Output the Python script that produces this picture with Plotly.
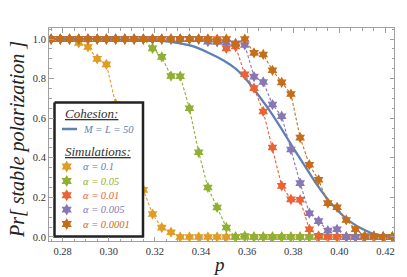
import plotly.graph_objects as go

# ---------------- data ----------------
p = [0.275, 0.279, 0.283, 0.287, 0.291, 0.295, 0.299, 0.303, 0.307, 0.311,
     0.315, 0.319, 0.323, 0.327, 0.331, 0.335, 0.339, 0.343, 0.347, 0.351,
     0.355, 0.359, 0.363, 0.367, 0.371, 0.375, 0.379, 0.383, 0.387, 0.391,
     0.395, 0.399, 0.403, 0.407, 0.411, 0.415, 0.419, 0.423]

alpha_01 = [1.0, 1.0, 1.0, 0.98, 0.96, 0.90, 0.872, 0.672, 0.471, 0.413,
            0.238, 0.116, 0.047, 0.024, 0, 0, 0, 0, 0, 0,
            0, 0, 0, 0, 0, 0, 0, 0, 0, 0,
            0, 0, 0, 0, 0, 0, 0, 0]
alpha_005 = [1.0, 1.0, 1.0, 1.0, 1.0, 1.0, 1.0, 1.0, 1.0, 1.0,
             1.0, 0.953, 0.91, 0.813, 0.812, 0.65, 0.428, 0.25, 0.149, 0.048,
             0, 0.005, 0, 0, 0, 0, 0, 0, 0, 0,
             0, 0, 0, 0, 0, 0, 0, 0]
alpha_001 = [1.0, 1.0, 1.0, 1.0, 1.0, 1.0, 1.0, 1.0, 1.0, 1.0,
             1.0, 1.0, 1.0, 1.0, 1.0, 1.0, 1.0, 1.0, 1.0, 0.953,
             0.962, 0.822, 0.752, 0.634, 0.452, 0.258, 0.19, 0.188, 0.039, 0.006,
             0, 0, 0, 0, 0, 0, 0, 0]
alpha_0005 = [1.0, 1.0, 1.0, 1.0, 1.0, 1.0, 1.0, 1.0, 1.0, 1.0,
              1.0, 1.0, 1.0, 1.0, 1.0, 1.0, 1.0, 0.987, 0.985, 0.982,
              0.978, 0.97, 0.81, 0.783, 0.669, 0.61, 0.442, 0.272, 0.12, 0.08,
              0.032, 0.039, 0, 0, 0, 0, 0, 0]
alpha_00001 = [1.0, 1.0, 1.0, 1.0, 1.0, 1.0, 1.0, 1.0, 1.0, 1.0,
               1.0, 1.0, 1.0, 1.0, 1.0, 1.0, 1.0, 1.0, 0.99, 1.0,
               0.975, 1.0, 0.93, 0.922, 0.842, 0.781, 0.722, 0.502, 0.365, 0.289,
               0.171, 0.15, 0.086, 0.039, 0.005, 0.005, 0, 0]

cohesion_p = [0.2741, 0.29, 0.30, 0.31, 0.32, 0.329, 0.336, 0.343, 0.350, 0.355,
              0.360, 0.365, 0.370, 0.375, 0.380, 0.385, 0.390, 0.395, 0.400, 0.405,
              0.410, 0.415, 0.420, 0.4237]
cohesion_v = [1.0, 1.0, 0.999, 0.997, 0.993, 0.982, 0.965, 0.932, 0.89, 0.85,
              0.79, 0.715, 0.635, 0.545, 0.45, 0.36, 0.27, 0.19, 0.125, 0.075,
              0.04, 0.015, 0.004, 0.0]

series_names = ["α = 0.1", "α = 0.05", "α = 0.01", "α = 0.005", "α = 0.0001"]
series_values = [alpha_01, alpha_005, alpha_001, alpha_0005, alpha_00001]
series_colors = ["#E19C24", "#8FB032", "#EB6235", "#8778B3", "#C56E1A"]
label_colors = ["#5E81B5", "#8FB032", "#EB6235", "#8778B3", "#C56E1A"]
BLUE = "#5E81B5"

x_ticks = [0.28, 0.30, 0.32, 0.34, 0.36, 0.38, 0.40, 0.42]
y_ticks = [0.0, 0.2, 0.4, 0.6, 0.8, 1.0]

FONT = "Liberation Serif"

# plot area in picture pixels: x 49..394, y 28..241
PX0, PX1, PY0, PY1 = 49.0, 394.0, 28.0, 241.0


def paper_x(px):
    return (px - PX0) / (PX1 - PX0)


def paper_y(py):
    return (PY1 - py) / (PY1 - PY0)


fig = go.Figure()

fig.add_trace(go.Scatter(
    x=cohesion_p, y=cohesion_v, mode="lines",
    line=dict(color=BLUE, width=2.3, shape="spline", smoothing=0.6),
    showlegend=False, hoverinfo="skip"))

for name, vals, col in zip(series_names, series_values, series_colors):
    fig.add_trace(go.Scatter(
        x=p, y=vals, mode="lines+markers", name=name,
        line=dict(color=col, width=1.1, dash="3px,2px"),
        marker=dict(symbol="hexagram", size=8.5, color=col, line=dict(width=0)),
        showlegend=False))

# ---------------- hand-made legend (overlay axes in pixel units) ----------------
bx0, bx1, by0, by1 = 54.5, 143, 102.5, 236.5
fig.add_trace(go.Scatter(
    x=[bx0, bx1, bx1, bx0, bx0], y=[by0, by0, by1, by1, by0],
    xaxis="x2", yaxis="y2", mode="lines", fill="toself", fillcolor="white",
    line=dict(color="#222222", width=2.5), showlegend=False, hoverinfo="skip"))
fig.add_trace(go.Scatter(
    x=[62, 77], y=[129, 129], xaxis="x2", yaxis="y2", mode="lines",
    line=dict(color=BLUE, width=2.5), showlegend=False, hoverinfo="skip"))
leg_y = [166.5, 181, 195.3, 209.6, 224]
fig.add_trace(go.Scatter(
    x=[66.7] * len(leg_y), y=leg_y, xaxis="x2", yaxis="y2", mode="markers",
    marker=dict(symbol="hexagram", size=9, color=series_colors, line=dict(width=0)),
    showlegend=False, hoverinfo="skip"))

ann = []
ann.append(dict(x=62.5, y=113.5, text="<i><u>Cohesion:</u></i>"))
ann.append(dict(x=62.5, y=151, text="<i><u>Simulations:</u></i>"))
for a in ann:
    a.update(xref="x2", yref="y2", xanchor="left", yanchor="middle", showarrow=False,
             font=dict(family=FONT, size=13, color="#333333"))
ann.append(dict(x=81, y=129, text="<i>M = L = 50</i>", xref="x2", yref="y2",
                xanchor="left", yanchor="middle", showarrow=False,
                font=dict(family=FONT, size=10.5, color=BLUE)))
for name, yy, col in zip(series_names, leg_y, label_colors):
    ann.append(dict(x=81, y=yy, text="<i>" + name + "</i>", xref="x2", yref="y2",
                    xanchor="left", yanchor="middle", showarrow=False,
                    font=dict(family=FONT, size=10.5, color=col)))
# axis titles (paper coordinates)
ann.append(dict(x=paper_x(17), y=paper_y(140), text="<i>Pr[ stable polarization ]</i>",
                xref="paper", yref="paper",
                xanchor="center", yanchor="middle", textangle=-90, showarrow=False,
                font=dict(family=FONT, size=20, color="#222222")))
ann.append(dict(x=paper_x(219), y=paper_y(264), text="<i>p</i>",
                xref="paper", yref="paper",
                xanchor="center", yanchor="middle", showarrow=False,
                font=dict(family=FONT, size=19, color="#222222")))

axis_common = dict(
    showgrid=False, zeroline=False, showline=True, linecolor="#A0A0A0", linewidth=1,
    mirror="ticks", ticks="inside", ticklen=4.5, tickwidth=1, tickcolor="#A0A0A0",
    tickfont=dict(family=FONT, size=10.5, color="#333333"),
)

fig.update_layout(
    width=407, height=277,
    margin=dict(l=49, r=13, t=28, b=36, autoexpand=False),
    paper_bgcolor="white", plot_bgcolor="white",
    xaxis=dict(range=[0.2741, 0.4237], tickvals=x_ticks,
               ticktext=["%.2f" % v for v in x_ticks],
               minor=dict(dtick=0.005, tick0=0.28, ticks="inside", ticklen=2.5,
                          tickcolor="#A0A0A0"),
               **axis_common),
    yaxis=dict(range=[-0.0203, 1.0557], tickvals=y_ticks,
               ticktext=["%.1f" % v for v in y_ticks],
               minor=dict(dtick=0.05, tick0=0, ticks="inside", ticklen=2.5,
                          tickcolor="#A0A0A0"),
               **axis_common),
    xaxis2=dict(overlaying="x", anchor="y2", range=[PX0, PX1], visible=False),
    yaxis2=dict(overlaying="y", anchor="x2", range=[PY1, PY0], visible=False),
    annotations=ann,
    showlegend=False,
)

# remove the default page margin so the figure fills the 407x277 window exactly
fig.write_html("out.html",
               config={"displayModeBar": False},
               post_script="document.body.style.margin='0';"
                           "document.body.style.overflow='hidden';")
